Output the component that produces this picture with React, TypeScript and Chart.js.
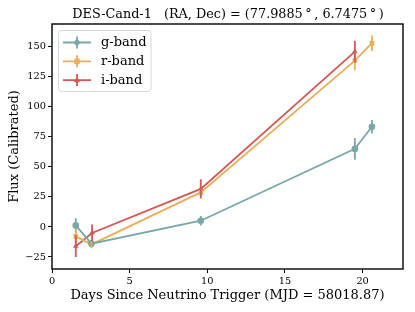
import React, { useEffect, useRef } from "react";
import { Chart, registerables } from "chart.js";

Chart.register(...registerables);

const gDays = [1.53, 2.54, 9.58, 19.5, 20.6];
const gFlux = [1.3, -13.9, 5.2, 65.0, 83.5];
const gErr = [6, 3, 4, 9, 5.5];

const rDays = [1.53, 2.54, 9.58, 19.5, 20.6];
const rFlux = [-7.8, -14.5, 28.8, 138.5, 153.0];
const rErr = [6, 3, 4, 8, 6.5];

const iDays = [1.53, 2.58, 9.58, 19.5];
const iFlux = [-16.0, -5.0, 31.7, 146.0];
const iErr = [9, 7, 8, 9];

const xTicks = [0, 5, 10, 15, 20];
const yTicks = [-25, 0, 25, 50, 75, 100, 125, 150];

const bandNames = ["g-band", "r-band", "i-band"];
const bandColors = ["#78a7a5", "#e8ae5c", "#d25757"];
const bandMarkers = ["circle", "rect", "triangle"];

const titleText = "DES-Cand-1   (RA, Dec) = (77.9885\u2009°\u2009, 6.7475\u2009°\u2009)";
const xLabel = "Days Since Neutrino Trigger (MJD = 58018.87)";
const yLabel = "Flux (Calibrated)";

const SERIF = "'DejaVu Serif', serif";

const errs = [gErr, rErr, iErr];

const errorBarPlugin = {
  id: "errorBars",
  afterDatasetsDraw(chart: any) {
    const ctx = chart.ctx;
    const xs = chart.scales.x;
    const ys = chart.scales.y;
    chart.data.datasets.forEach((ds: any, di: number) => {
      const e = errs[di];
      ctx.save();
      ctx.strokeStyle = bandColors[di];
      ctx.lineWidth = 1.8;
      ds.data.forEach((p: any, k: number) => {
        const px = xs.getPixelForValue(p.x);
        const y1 = ys.getPixelForValue(p.y - e[k]);
        const y2 = ys.getPixelForValue(p.y + e[k]);
        ctx.beginPath();
        ctx.moveTo(px, y1);
        ctx.lineTo(px, y2);
        ctx.stroke();
      });
      ctx.restore();
    });
  },
};

const framePlugin = {
  id: "frameAndText",
  afterDraw(chart: any) {
    const ctx = chart.ctx;
    const a = chart.chartArea;
    ctx.save();
    ctx.strokeStyle = "#000";
    ctx.lineWidth = 1.4;
    ctx.strokeRect(a.left, a.top, a.right - a.left, a.bottom - a.top);
    // title
    ctx.fillStyle = "#000";
    ctx.font = "12.8px " + SERIF;
    ctx.textAlign = "center";
    ctx.textBaseline = "alphabetic";
    ctx.fillText(titleText, (a.left + a.right) / 2 + 0.5, 18);
    // legend
    const bx = 58.5, by = 30.5, bw = 92.5, bh = 61;
    ctx.fillStyle = "rgba(255,255,255,0.8)";
    ctx.strokeStyle = "#d6d6d6";
    ctx.lineWidth = 1;
    ctx.beginPath();
    (ctx as any).roundRect(bx, by, bw, bh, 3);
    ctx.fill();
    ctx.stroke();
    bandNames.forEach((name, i) => {
      const cy = 42.5 + i * 18.8;
      ctx.strokeStyle = bandColors[i];
      ctx.fillStyle = bandColors[i];
      ctx.lineWidth = 1.8;
      ctx.beginPath();
      ctx.moveTo(63, cy);
      ctx.lineTo(91, cy);
      ctx.moveTo(77, cy - 6);
      ctx.lineTo(77, cy + 6);
      ctx.stroke();
      ctx.beginPath();
      if (i === 0) {
        ctx.arc(77, cy, 2.7, 0, Math.PI * 2);
      } else if (i === 1) {
        ctx.rect(74.3, cy - 2.7, 5.4, 5.4);
      } else {
        ctx.moveTo(77, cy - 3.3);
        ctx.lineTo(80, cy + 2.2);
        ctx.lineTo(74, cy + 2.2);
        ctx.closePath();
      }
      ctx.fill();
      ctx.fillStyle = "#000";
      ctx.font = "13px " + SERIF;
      ctx.textAlign = "left";
      ctx.textBaseline = "middle";
      ctx.fillText(name, 101, cy + 0.5);
    });
    ctx.restore();
  },
};

export default function App() {
  const ref = useRef<HTMLCanvasElement>(null);
  useEffect(() => {
    document.body.style.margin = "0";
    const mk = (xs: number[], ys: number[]) => xs.map((x, i) => ({ x, y: ys[i] }));
    const series = [mk(gDays, gFlux), mk(rDays, rFlux), mk(iDays, iFlux)];
    const chart = new Chart(ref.current as HTMLCanvasElement, {
      type: "line",
      data: {
        datasets: series.map((d, i) => ({
          label: bandNames[i],
          data: d,
          borderColor: bandColors[i],
          backgroundColor: bandColors[i],
          borderWidth: 1.8,
          pointStyle: bandMarkers[i] as any,
          pointRadius: 3.3,
          pointBorderWidth: 0,
          tension: 0,
          fill: false,
        })),
      },
      options: {
        animation: false,
        responsive: false,
        devicePixelRatio: 1,
        layout: { padding: { top: 24, right: 12, left: 0, bottom: 0 } },
        plugins: {
          legend: { display: false },
          title: { display: false },
          tooltip: { enabled: false },
        },
        scales: {
          x: {
            type: "linear",
            min: 0,
            max: 22.6,
            afterFit(s: any) {
              s.height = 43;
            },
            afterBuildTicks(s: any) {
              s.ticks = xTicks.map((v) => ({ value: v }));
            },
            grid: {
              drawOnChartArea: false,
              drawTicks: true,
              tickLength: 4,
              color: "#000",
              tickWidth: 1,
            },
            border: { display: false },
            ticks: {
              color: "#000",
              font: { family: SERIF, size: 9.8 },
              padding: 3,
              maxRotation: 0,
            },
            title: {
              display: true,
              text: xLabel,
              color: "#000",
              font: { family: SERIF, size: 13 },
              padding: { top: 0, bottom: 8.5 },
            },
          },
          y: {
            type: "linear",
            min: -35,
            max: 169,
            afterFit(s: any) {
              s.width = 52;
            },
            afterBuildTicks(s: any) {
              s.ticks = yTicks.map((v) => ({ value: v }));
            },
            grid: {
              drawOnChartArea: false,
              drawTicks: true,
              tickLength: 4,
              color: "#000",
              tickWidth: 1,
            },
            border: { display: false },
            ticks: {
              color: "#000",
              font: { family: SERIF, size: 9.8 },
              padding: 2,
              callback: (v: any) => (v < 0 ? "\u2212" + Math.abs(v) : String(v)),
            },
            title: {
              display: true,
              text: yLabel,
              color: "#000",
              font: { family: SERIF, size: 13 },
              padding: { top: 7, bottom: 0 },
            },
          },
        },
      },
      plugins: [errorBarPlugin, framePlugin],
    });
    return () => chart.destroy();
  }, []);
  return (
    <div style={{ width: 415, height: 312 }}>
      <canvas ref={ref} width={415} height={312} style={{ width: 415, height: 312 }} />
    </div>
  );
}
